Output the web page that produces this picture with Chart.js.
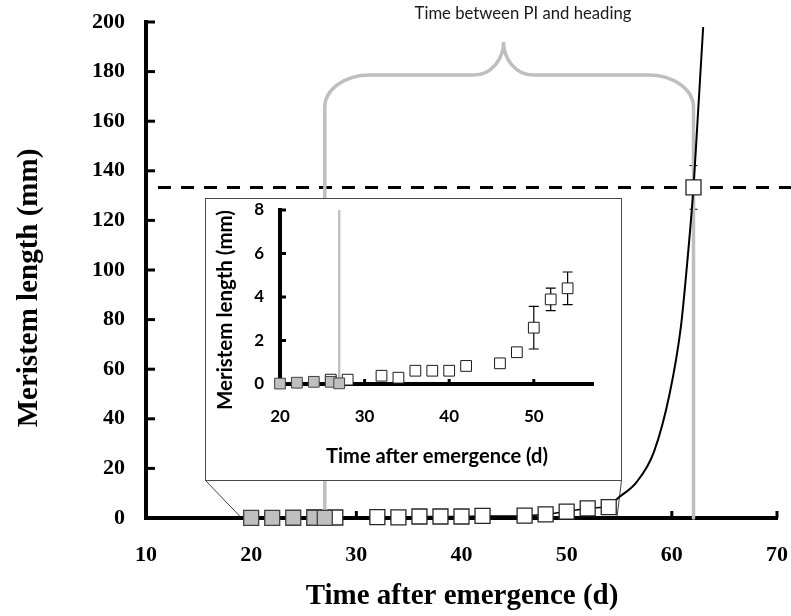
<!DOCTYPE html>
<html><head><meta charset="utf-8">
<script src="https://cdn.jsdelivr.net/npm/chart.js@4.4.1/dist/chart.umd.min.js"></script>
<style>
html,body{margin:0;padding:0;background:#fff;}
#wrap{position:relative;width:791px;height:616px;overflow:hidden;}
#main{position:absolute;left:0;top:0;}
#insetBox{position:absolute;left:205px;top:198px;width:417px;height:283px;box-sizing:border-box;border:1px solid #4a4a4a;background:#fff;}
#inset{position:absolute;left:0;top:0;}
</style></head>
<body>
<div id="wrap">
<canvas id="main" width="791" height="616"></canvas>
<div id="insetBox"><canvas id="inset" width="415" height="281"></canvas></div>
</div>
<script>
// ---------- data ----------
const grayDays    = [20, 22, 24, 26, 27];
const grayLength  = [0.02, 0.06, 0.10, 0.10, 0.03];
const openDays    = [26, 28, 32, 34, 36, 38, 40, 42, 46, 48, 50, 52, 54];
const openLength  = [0.20, 0.20, 0.38, 0.29, 0.61, 0.61, 0.61, 0.83, 0.95, 1.46, 2.59, 3.89, 4.40];
const openError   = [0, 0, 0, 0, 0, 0, 0, 0, 0, 0, 0.98, 0.52, 0.75];
const headingDay    = [62.06];
const headingLength = [133.3];
const headingError  = [8.8];
const fitDays   = [54, 54.73, 56.67, 58.3, 59.8, 60.86, 61.4, 62.06, 62.45, 62.98];
const fitLength = [4.4, 7.5, 14.6, 26.7, 50.3, 77.1, 100, 133.3, 160.5, 198];
const piDay = 27;
const bracePeakDay = 44;
const braceLevel = 178.6;
const zoomRange = [18.9, 54.8];
const mainXTicks = [10, 20, 30, 40, 50, 60, 70];
const mainYTicks = [0, 20, 40, 60, 80, 100, 120, 140, 160, 180, 200];
const insetXTicks = [20, 30, 40, 50];
const insetYTicks = [0, 2, 4, 6, 8];
const annotationText = 'Time between PI and heading';
const xTitle = 'Time after emergence (d)';
const yTitle = 'Meristem length (mm)';

const pts = (xs, ys) => xs.map((v, i) => ({x: v, y: ys[i]}));
const SERIF = "'Liberation Serif', 'Times New Roman', serif";
const SANS = "Lato, 'Open Sans', sans-serif";

function fitSize(ctx, text, weight, family, target) {
  ctx.font = weight + ' 100px ' + family;
  return target / ctx.measureText(text).width * 100;
}
function noOverflow(s) { s.paddingLeft = 0; s.paddingRight = 0; s.paddingTop = 0; s.paddingBottom = 0; }

function inwardTicks(chart, xs, ys, xLen, yLen, w) {
  const {ctx, scales: {x, y}, chartArea: a} = chart;
  ctx.save();
  ctx.strokeStyle = '#000'; ctx.lineWidth = w;
  xs.forEach(v => { const px = x.getPixelForValue(v); ctx.beginPath(); ctx.moveTo(px, a.bottom); ctx.lineTo(px, a.bottom - xLen); ctx.stroke(); });
  ys.forEach(v => { const py = y.getPixelForValue(v); ctx.beginPath(); ctx.moveTo(a.left, py); ctx.lineTo(a.left + yLen, py); ctx.stroke(); });
  ctx.restore();
}

// ---------- main chart ----------
const mainDeco = {
  id: 'mainDeco',
  beforeDatasetsDraw(chart) {
    const {ctx, scales: {x, y}, chartArea: a} = chart;
    inwardTicks(chart, mainXTicks, mainYTicks, 7, 9, 3);
    ctx.save();
    const hy = y.getPixelForValue(headingLength[0]);
    ctx.strokeStyle = '#000'; ctx.lineWidth = 3; ctx.setLineDash([13, 10]);
    ctx.beginPath(); ctx.moveTo(a.left + 12, hy); ctx.lineTo(chart.width, hy); ctx.stroke();
    ctx.setLineDash([]);
    const hx = x.getPixelForValue(headingDay[0]);
    const e1 = y.getPixelForValue(headingLength[0] + headingError[0]);
    const e2 = y.getPixelForValue(headingLength[0] - headingError[0]);
    ctx.lineWidth = 1;
    ctx.beginPath(); ctx.moveTo(hx, e1); ctx.lineTo(hx, e2);
    ctx.moveTo(hx - 4, e1); ctx.lineTo(hx + 4, e1);
    ctx.moveTo(hx - 4, e2); ctx.lineTo(hx + 4, e2); ctx.stroke();
    const L = x.getPixelForValue(piDay), R = x.getPixelForValue(headingDay[0]), C = x.getPixelForValue(bracePeakDay);
    const yb = y.getPixelForValue(braceLevel), y0 = y.getPixelForValue(0);
    const rx = 45, ry = 32, tip = 33, cw = 30, k = 0.4477;
    ctx.strokeStyle = '#bfbfbf'; ctx.lineWidth = 3.5; ctx.lineCap = 'round';
    ctx.beginPath();
    ctx.moveTo(L, y0);
    ctx.lineTo(L, yb + ry);
    ctx.bezierCurveTo(L, yb + ry * k, L + rx * k, yb, L + rx, yb);
    ctx.lineTo(C - cw, yb);
    ctx.bezierCurveTo(C - cw * 0.4, yb, C, yb - tip * 0.5, C, yb - tip);
    ctx.bezierCurveTo(C, yb - tip * 0.5, C + cw * 0.4, yb, C + cw, yb);
    ctx.lineTo(R - rx, yb);
    ctx.bezierCurveTo(R - rx * k, yb, R, yb + ry * k, R, yb + ry);
    ctx.lineTo(R, y0);
    ctx.stroke();
    const box = document.getElementById('insetBox');
    const bl = box.offsetLeft + 0.5, br = box.offsetLeft + box.offsetWidth - 0.5, bb = box.offsetTop + box.offsetHeight - 0.5;
    ctx.strokeStyle = '#404040'; ctx.lineWidth = 1; ctx.lineCap = 'butt';
    ctx.beginPath();
    ctx.moveTo(bl, bb); ctx.lineTo(x.getPixelForValue(zoomRange[0]), y0 - 2);
    ctx.moveTo(br, bb); ctx.lineTo(x.getPixelForValue(zoomRange[1]), y0 - 2);
    ctx.stroke();
    ctx.restore();
  },
  afterDraw(chart) {
    const {ctx} = chart;
    ctx.save();
    ctx.fillStyle = '#000';
    ctx.textAlign = 'center'; ctx.textBaseline = 'middle';
    ctx.font = 'bold 29px ' + SERIF;
    ctx.fillText(xTitle, 462, 597);
    ctx.translate(30, 288); ctx.rotate(-Math.PI / 2);
    ctx.fillText(yTitle, 0, 0);
    ctx.setTransform(1, 0, 0, 1, 0, 0);
    const s = fitSize(ctx, annotationText, 'normal', SANS, 217);
    ctx.font = 'normal ' + s.toFixed(2) + 'px ' + SANS;
    ctx.fillStyle = '#1a1a1a';
    ctx.fillText(annotationText, 523, 14);
    ctx.restore();
  }
};

const axisCommon = (size, pad) => ({
  type: 'linear',
  grid: {display: true, drawOnChartArea: false, drawTicks: false},
  border: {display: true, color: '#000', width: 4},
  ticks: {color: '#000', padding: pad, font: {family: SERIF, size: size, weight: 'bold'}}
});

new Chart(document.getElementById('main'), {
  type: 'scatter',
  data: {datasets: [
    {data: pts(grayDays, grayLength), pointStyle: 'rect', pointRadius: 10.6, pointBackgroundColor: '#bfbfbf', pointBorderColor: '#404040', pointBorderWidth: 1.3, showLine: false, clip: false},
    {data: pts(headingDay, headingLength), pointStyle: 'rect', pointRadius: 10.6, pointBackgroundColor: '#fff', pointBorderColor: '#262626', pointBorderWidth: 1.3, showLine: false, clip: false},
    {data: pts(openDays, openLength), pointStyle: 'rect', pointRadius: 10.6, pointBackgroundColor: '#fff', pointBorderColor: '#262626', pointBorderWidth: 1.3, showLine: true, borderColor: '#000', borderWidth: 1.5, clip: false},
    {data: pts(fitDays, fitLength), pointRadius: 0, showLine: true, borderColor: '#000', borderWidth: 2, cubicInterpolationMode: 'monotone', clip: false}
  ]},
  options: {
    responsive: false, animation: false, devicePixelRatio: 1,
    layout: {padding: {top: 22, right: 14, left: 0, bottom: 0}},
    plugins: {legend: {display: false}, tooltip: {enabled: false}},
    scales: {
      x: Object.assign(axisCommon(22, 24), {min: 10, max: 70, position: 'bottom',
        afterBuildTicks: s => { s.ticks = mainXTicks.map(v => ({value: v})); },
        afterFit: s => { s.height = 98; noOverflow(s); }}),
      y: Object.assign(axisCommon(22, 21), {min: 0, max: 200, position: 'left',
        afterBuildTicks: s => { s.ticks = mainYTicks.map(v => ({value: v})); },
        afterFit: s => { s.width = 146; noOverflow(s); }})
    }
  },
  plugins: [mainDeco]
});

// ---------- inset chart ----------
const insetDeco = {
  id: 'insetDeco',
  beforeDatasetsDraw(chart) {
    const {ctx, scales: {x, y}} = chart;
    inwardTicks(chart, insetXTicks, insetYTicks, 5, 6, 3);
    ctx.save();
    const px = x.getPixelForValue(piDay);
    ctx.strokeStyle = '#c0c0c0'; ctx.lineWidth = 2.5;
    ctx.beginPath(); ctx.moveTo(px, y.getPixelForValue(0)); ctx.lineTo(px, y.getPixelForValue(8)); ctx.stroke();
    ctx.strokeStyle = '#000'; ctx.lineWidth = 1.2;
    openDays.forEach((d, i) => {
      if (!openError[i]) return;
      const cx = x.getPixelForValue(d);
      const t = y.getPixelForValue(openLength[i] + openError[i]);
      const b = y.getPixelForValue(openLength[i] - openError[i]);
      ctx.beginPath();
      ctx.moveTo(cx, t); ctx.lineTo(cx, b);
      ctx.moveTo(cx - 5, t); ctx.lineTo(cx + 5, t);
      ctx.moveTo(cx - 5, b); ctx.lineTo(cx + 5, b);
      ctx.stroke();
    });
    ctx.restore();
  },
  afterDraw(chart) {
    const {ctx} = chart;
    ctx.save();
    ctx.fillStyle = '#000'; ctx.textAlign = 'center'; ctx.textBaseline = 'middle';
    let s = fitSize(ctx, xTitle, 'bold', SANS, 222);
    ctx.font = 'bold ' + s.toFixed(2) + 'px ' + SANS;
    ctx.fillText(xTitle, 231, 258);
    s = fitSize(ctx, yTitle, 'bold', SANS, 200);
    ctx.font = 'bold ' + s.toFixed(2) + 'px ' + SANS;
    ctx.translate(19, 111); ctx.rotate(-Math.PI / 2);
    ctx.fillText(yTitle, 0, 0);
    ctx.restore();
  }
};

const insetAxis = (pad) => ({
  type: 'linear',
  grid: {display: true, drawOnChartArea: false, drawTicks: false},
  border: {display: true, color: '#000', width: 4},
  ticks: {color: '#000', padding: pad, font: {family: SANS, size: 17, weight: 'bold'}}
});

new Chart(document.getElementById('inset'), {
  type: 'scatter',
  data: {datasets: [
    {data: pts(grayDays, grayLength), pointStyle: 'rect', pointRadius: 7.6, pointBackgroundColor: '#bfbfbf', pointBorderColor: '#404040', pointBorderWidth: 1, clip: false},
    {data: pts(openDays, openLength), pointStyle: 'rect', pointRadius: 7.6, pointBackgroundColor: '#fff', pointBorderColor: '#1a1a1a', pointBorderWidth: 1, clip: false}
  ]},
  options: {
    responsive: false, animation: false, devicePixelRatio: 1,
    layout: {padding: {top: 11, right: 28, left: 0, bottom: 0}},
    plugins: {legend: {display: false}, tooltip: {enabled: false}},
    scales: {
      x: Object.assign(insetAxis(22), {min: 20, max: 57, position: 'bottom',
        afterBuildTicks: s => { s.ticks = insetXTicks.map(v => ({value: v})); },
        afterFit: s => { s.height = 96; noOverflow(s); }}),
      y: Object.assign(insetAxis(16), {min: 0, max: 8, position: 'left',
        afterBuildTicks: s => { s.ticks = insetYTicks.map(v => ({value: v})); },
        afterFit: s => { s.width = 74; noOverflow(s); }})
    }
  },
  plugins: [insetDeco]
});
</script>
</body></html>
